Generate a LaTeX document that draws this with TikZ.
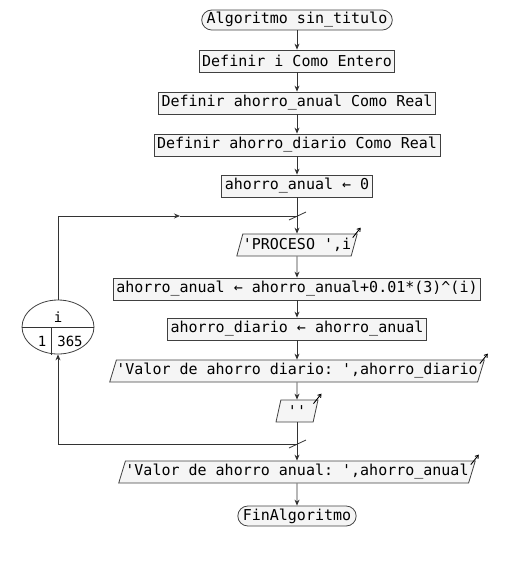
\documentclass[tikz,border=0pt]{standalone}
\usepackage{fontspec}
\setmonofont{DejaVu Sans Mono}
\usetikzlibrary{arrows.meta,shapes.geometric}

\begin{document}
\begin{tikzpicture}[x=1pt,y=-1pt]
	\useasboundingbox (0,0) rectangle (508,563);
	\begin{scope}[every node/.style = {draw=black!75, fill=black!4, line width=0.8pt,
			font=\ttfamily\fontsize{15}{17}\selectfont, text=black,
			minimum height=22pt, inner xsep=3pt, inner ysep=0pt},
		term/.style = {rounded corners=10pt, minimum height=20pt, inner xsep=5pt},
		outp/.style = {trapezium, trapezium left angle=66, trapezium right angle=114,
			trapezium stretches body, inner xsep=0pt}]
		\node[term] (start) at (297,20) {Algoritmo sin\_titulo};
		\node (defi) at (297,61) {Definir i Como Entero};
		\node (defa) at (297,103) {Definir ahorro\_anual Como Real};
		\node (defd) at (297,145) {Definir ahorro\_diario Como Real};
		\node (ini) at (297,186) {ahorro\_anual ← 0};
		\node[outp] (proc) at (297,245) {'PROCESO ',i};
		\node (calc) at (297,289) {ahorro\_anual ← ahorro\_anual+0.01*(3)\textasciicircum(i)};
		\node (diar) at (297,329) {ahorro\_diario ← ahorro\_anual};
		\node[outp] (outd) at (297,371) {'Valor de ahorro diario: ',ahorro\_diario};
		\node[outp, minimum width=42pt] (outb) at (297,411) {''};
		\node[outp] (outa) at (297,472) {'Valor de ahorro anual: ',ahorro\_anual};
		\node[term] (fin) at (297,516) {FinAlgoritmo};
	\end{scope}
	% bucle para
	\begin{scope}[every node/.style = {font=\ttfamily\fontsize{14}{16}\selectfont, text=black, inner sep=0pt}]
		\node[ellipse, draw=black!75, fill=white, line width=0.8pt,
			minimum width=72pt, minimum height=54pt] (loop) at (58,327) {};
		\node (lvar) at (58,317) {i};
		\node (lfrom) at (42,341) {1};
		\node (lto) at (70,341) {365};
	\end{scope}
	\coordinate (loopTop) at (297,216);
	\coordinate (loopMid) at (180,216);
	\coordinate (loopBot) at (297,444);
	\begin{scope}[>={Stealth[length=6pt, width=5pt]},
			every edge/.style={draw=black!80, line width=0.8pt}]
		\path [->] (start) edge (defi);
		\path [->] (defi) edge (defa);
		\path [->] (defa) edge (defd);
		\path [->] (defd) edge (ini);
		\path [-] (ini) edge (loopTop);
		\path [->] (loopTop) edge (proc);
		\path [->] (proc) edge (calc);
		\path [->] (calc) edge (diar);
		\path [->] (diar) edge (outd);
		\path [->] (outd) edge (outb);
		\path [-] (outb) edge (loopBot);
		\path [->] (loopBot) edge (outa);
		\path [->] (outa) edge (fin);
	\end{scope}
	\begin{scope}[>={Stealth[length=6pt, width=5pt]}, draw=black!80, line width=0.8pt]
		\draw [->] (loop.north) |- (loopMid);
		\draw (loopMid) -- (loopTop);
		\draw [->] (loopBot) -| (loop.south);
		\draw (loop.west) -- (loop.east);
		\draw ([xshift=-7pt]loop.center) -- ([xshift=-7pt, yshift=-0.5pt]loop.south);
		% marcas de union
		\draw ([shift={(-8,4)}]loopTop) -- ([shift={(9,-4)}]loopTop);
		\draw ([shift={(-8,4)}]loopBot) -- ([shift={(9,-4)}]loopBot);
	\end{scope}
	% flechas de salida
	\begin{scope}[>={Straight Barb[length=3pt, width=4pt]}, draw=black, line width=0.9pt]
		\foreach \n in {proc, outd, outb, outa}
			\draw [->] ([shift={(-5,4)}]\n.top right corner) -- ([shift={(3,-6)}]\n.top right corner);
	\end{scope}
\end{tikzpicture}
\end{document}
